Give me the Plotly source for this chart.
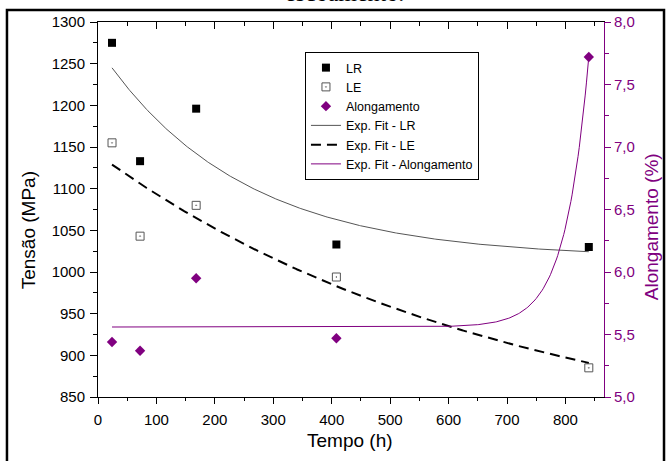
import numpy as np
import plotly.graph_objects as go

# Measured values
tempo_h = [24, 72, 168, 408, 840]
lr_mpa = [1275, 1133, 1196, 1033, 1030]
le_mpa = [1155, 1043, 1080, 994, 885]
alongamento_pct = [5.44, 5.37, 5.95, 5.47, 7.72]

# Exponential fits: decay y = y0 + A*exp(-x/t), growth y = y0 + A*exp(x/t)
fit_lr = {"y0": 1016.7, "A": 252.3, "t": 240.0}
fit_le = {"y0": 783.2, "A": 357.8, "t": 700.0}
fit_along = {"y0": 5.56, "A": 1.64e-9, "t": 40.0}

# Axis ticks
tensao_ticks = list(range(850, 1301, 50))
tempo_ticks = list(range(0, 801, 100))
along_ticks = [5.0, 5.5, 6.0, 6.5, 7.0, 7.5, 8.0]
along_ticktext = ["5,0", "5,5", "6,0", "6,5", "7,0", "7,5", "8,0"]

PURPLE = "#800080"
FONT = "Liberation Sans"

x_fit = np.linspace(min(tempo_h), max(tempo_h), 400)
y_fit_lr = fit_lr["y0"] + fit_lr["A"] * np.exp(-x_fit / fit_lr["t"])
y_fit_le = fit_le["y0"] + fit_le["A"] * np.exp(-x_fit / fit_le["t"])
y_fit_along = fit_along["y0"] + fit_along["A"] * np.exp(x_fit / fit_along["t"])

fig = go.Figure()
fig.add_trace(go.Scatter(
    x=tempo_h, y=lr_mpa, mode="markers", name="LR",
    marker=dict(symbol="square", size=8, color="black")))
fig.add_trace(go.Scatter(
    x=tempo_h, y=le_mpa, mode="markers", name="LE",
    marker=dict(symbol="square-open-dot", size=8, color="#555555",
                line=dict(width=1, color="#555555"))))
fig.add_trace(go.Scatter(
    x=tempo_h, y=alongamento_pct, mode="markers", name="Alongamento",
    yaxis="y2", marker=dict(symbol="diamond", size=8, color=PURPLE)))
fig.add_trace(go.Scatter(
    x=x_fit, y=y_fit_lr, mode="lines", name="Exp. Fit - LR",
    line=dict(color="#555555", width=1)))
fig.add_trace(go.Scatter(
    x=x_fit, y=y_fit_le, mode="lines", name="Exp. Fit - LE",
    line=dict(color="black", width=2, dash="10px,6px")))
fig.add_trace(go.Scatter(
    x=x_fit, y=y_fit_along, mode="lines", name="Exp. Fit - Alongamento",
    yaxis="y2", line=dict(color=PURPLE, width=1)))
# carrier for the top frame axis
fig.add_trace(go.Scatter(x=[], y=[], xaxis="x2", showlegend=False,
                         hoverinfo="skip"))

x_range = [0, 866]

fig.update_layout(
    width=672, height=461,
    margin=dict(l=98, r=68, t=22, b=64),
    paper_bgcolor="white", plot_bgcolor="white",
    font=dict(family=FONT, size=15, color="black"),
    showlegend=True,
    legend=dict(
        x=0.409, y=0.92, xanchor="left", yanchor="top",
        bordercolor="black", borderwidth=1, bgcolor="white",
        font=dict(family=FONT, size=12.5, color="black"),
        tracegroupgap=0,
    ),
    xaxis=dict(
        range=x_range, tickvals=tempo_ticks, ticks="outside", ticklen=6,
        tickcolor="black", showline=True, linecolor="black", linewidth=1,
        showgrid=False, zeroline=False, ticklabelstandoff=3,
        minor=dict(dtick=50, ticks="outside", ticklen=3, tickcolor="black",
                   showgrid=False),
        tickfont=dict(family=FONT, size=15, color="black"),
    ),
    xaxis2=dict(
        range=x_range, overlaying="x", side="top", anchor="y",
        tickvals=tempo_ticks, ticks="inside", ticklen=7, tickcolor="black",
        showticklabels=False, showline=True, linecolor="black", linewidth=1,
        showgrid=False, zeroline=False,
        minor=dict(dtick=50, ticks="inside", ticklen=4, tickcolor="black",
                   showgrid=False),
    ),
    yaxis=dict(
        range=[850, 1300], tickvals=tensao_ticks, ticks="outside", ticklen=7,
        tickcolor="black", showline=True, linecolor="black", linewidth=1,
        showgrid=False, zeroline=False, ticklabelstandoff=2,
        minor=dict(dtick=25, ticks="outside", ticklen=4, tickcolor="black",
                   showgrid=False),
        tickfont=dict(family=FONT, size=15, color="black"),
    ),
    yaxis2=dict(
        range=[5, 8], overlaying="y", side="right", anchor="x",
        tickvals=along_ticks, ticktext=along_ticktext,
        ticks="outside", ticklen=6, tickcolor=PURPLE,
        showline=True, linecolor=PURPLE, linewidth=1,
        showgrid=False, zeroline=False,
        minor=dict(dtick=0.25, ticks="outside", ticklen=4, tickcolor=PURPLE,
                   showgrid=False),
        tickfont=dict(family=FONT, size=15, color=PURPLE),
    ),
)

# Axis titles
title_common = dict(xref="paper", yref="paper", showarrow=False,
                    xanchor="center", yanchor="middle")
fig.add_annotation(text="Tensão (MPa)", x=-0.138, y=0.445, textangle=-90,
                   font=dict(family=FONT, size=19, color="black"),
                   **title_common)
fig.add_annotation(text="Tempo (h)", x=0.498, y=-0.115,
                   font=dict(family=FONT, size=19, color="black"),
                   **title_common)
fig.add_annotation(text="Alongamento (%)", x=1.093, y=0.453, textangle=-90,
                   font=dict(family=FONT, size=19, color=PURPLE),
                   **title_common)

# Caption line above the figure
fig.add_annotation(text="escoamento.", x=0.488, y=1.076,
                   font=dict(family="Liberation Serif", size=24,
                             color="black"),
                   **title_common)

# Outer frame
fig.add_shape(type="rect", xref="paper", yref="paper",
              x0=-0.1799, x1=1.1186, y0=-0.2, y1=1.032,
              line=dict(color="black", width=2.5), fillcolor="rgba(0,0,0,0)")

fig.write_html("out.html")
